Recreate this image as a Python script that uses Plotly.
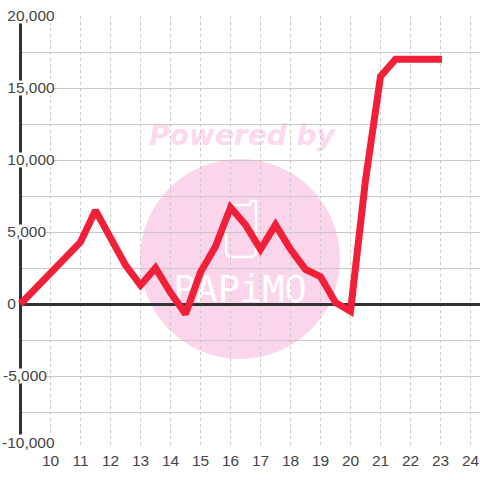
import plotly.graph_objects as go

x_values = [9, 10, 11, 11.5, 12, 12.5, 13, 13.5, 14, 14.5, 15, 15.5, 16, 16.5, 17, 17.5, 18, 18.5, 19, 19.5, 20, 20.5, 21, 21.5, 22, 23.05]
y_values = [0, 2100, 4300, 6500, 4700, 2700, 1300, 2500, 800, -700, 2200, 4000, 6700, 5500, 3800, 5500, 3800, 2400, 1900, 100, -500, 8600, 15800, 17000, 17000, 17000]
x_ticks = list(range(10, 25))
y_ticks = [v * 2500 for v in range(-4, 9)]
y_labels = {20000: "\u00a020,000", 15000: "\u00a015,000", 10000: "\u00a010,000", 5000: "\u00a05,000",
            0: "\u00a00", -5000: "-5,000"}

W, H = 480, 480
ML, MT, MB = 0, 16, 32
X0, X1 = 8.3167, 24.3167
Y0, Y1 = -10000, 20000


def px(p):
    return X0 + (p - ML) * (X1 - X0) / W


def py(p):
    return Y1 - (p - MT) * (Y1 - Y0) / (H - MT - MB)


GRID = "#c8c8c8"
AXIS = "#333333"
TEXT = "#444444"
PINK = "#fbd5ec"
FONT = "Liberation Sans, Arial, sans-serif"
FS = 15.5

shapes = [
    dict(type="circle", layer="below", xref="x", yref="y", x0=px(140), x1=px(340), y0=py(159), y1=py(359),
         fillcolor=PINK, line_width=0),
    dict(type="rect", layer="below", xref="x", yref="y", x0=px(142), x1=px(342), y0=py(149), y1=py(117),
         line_width=0, fillcolor="rgba(0,0,0,0)",
         label=dict(text="Powered by", textposition="middle center",
                    font=dict(family="DejaVu Sans", size=28, color="#fcd9ee", weight="bold", style="italic"))),
    dict(type="rect", layer="below", xref="x", yref="y", x0=px(165), x1=px(315), y0=py(305), y1=py(268),
         line_width=0, fillcolor="rgba(0,0,0,0)",
         label=dict(text="PAPiMO", textposition="middle center",
                    font=dict(family="DejaVu Sans Mono", size=37, color="#ffffff"))),
    dict(type="path", layer="below", xref="x", yref="y",
         path=(f"M {px(250)} {py(205)} L {px(232)} {py(205)} Q {px(226)} {py(205)} {px(226)} {py(211)} "
               f"L {px(226)} {py(251)} Q {px(226)} {py(257)} {px(232)} {py(257)} "
               f"L {px(250)} {py(257)} Q {px(256)} {py(257)} {px(256)} {py(251)} "
               f"L {px(256)} {py(201)} L {px(251)} {py(201)} Z"),
         line=dict(color="#ffffff", width=2.5), fillcolor="rgba(0,0,0,0)"),
    # y axis line
    dict(type="line", layer="between", xref="x", yref="y", x0=9, x1=9, y0=Y0, y1=Y1,
         line=dict(color=AXIS, width=3)),
    # left margin mask
    dict(type="rect", layer="between", xref="x", yref="y", x0=X0, x1=px(19), y0=py(449), y1=py(15),
         fillcolor="#ffffff", line_width=0),
]

label_mask = {20000: (53, 16), 15000: (53, 88), 10000: (53, 160), 5000: (45, 232), 0: (19, 304),
              -5000: (45, 376), -10000: (53, 442)}
for v, (right, center) in label_mask.items():
    shapes.append(dict(type="rect", layer="between", xref="x", yref="y", x0=X0, x1=px(right),
                       y0=py(center + 7.5), y1=py(center - 7.5), fillcolor="#ffffff", line_width=0))

fig = go.Figure(go.Scatter(x=x_values, y=y_values, mode="lines",
                           line=dict(color="#f12038", width=7), hoverinfo="skip"))

fig.update_layout(
    width=W, height=H, margin=dict(l=ML, r=0, t=MT, b=MB, pad=0),
    paper_bgcolor="#ffffff", plot_bgcolor="rgba(0,0,0,0)", showlegend=False,
    font=dict(family=FONT, size=FS, color=TEXT),
    shapes=shapes,
    annotations=[dict(text="-10,000", x=X0, y=-10000, xref="x", yref="y", xanchor="left", yanchor="middle",
                      xshift=0, yshift=6, showarrow=False, font=dict(family=FONT, size=FS, color=TEXT))],
    xaxis=dict(range=[X0, X1], tickmode="array", tickvals=x_ticks, ticktext=[str(t) for t in x_ticks],
               showgrid=True, gridcolor=GRID, griddash="3px,3px", gridwidth=1, zeroline=False,
               showline=False, ticks="", ticklabelstandoff=1, tickfont=dict(family=FONT, size=FS, color=TEXT)),
    yaxis=dict(range=[Y0, Y1], tickmode="array", tickvals=y_ticks,
               ticktext=[y_labels.get(v, "") for v in y_ticks],
               ticklabelposition="inside", ticklabeloverflow="allow",
               showgrid=True, gridcolor=GRID, gridwidth=1,
               zeroline=True, zerolinecolor=AXIS, zerolinewidth=3,
               showline=False, ticks="", tickfont=dict(family=FONT, size=FS, color=TEXT)),
)

fig.write_html("out.html", config=dict(displayModeBar=False),
               post_script="document.body.style.margin='0';")
